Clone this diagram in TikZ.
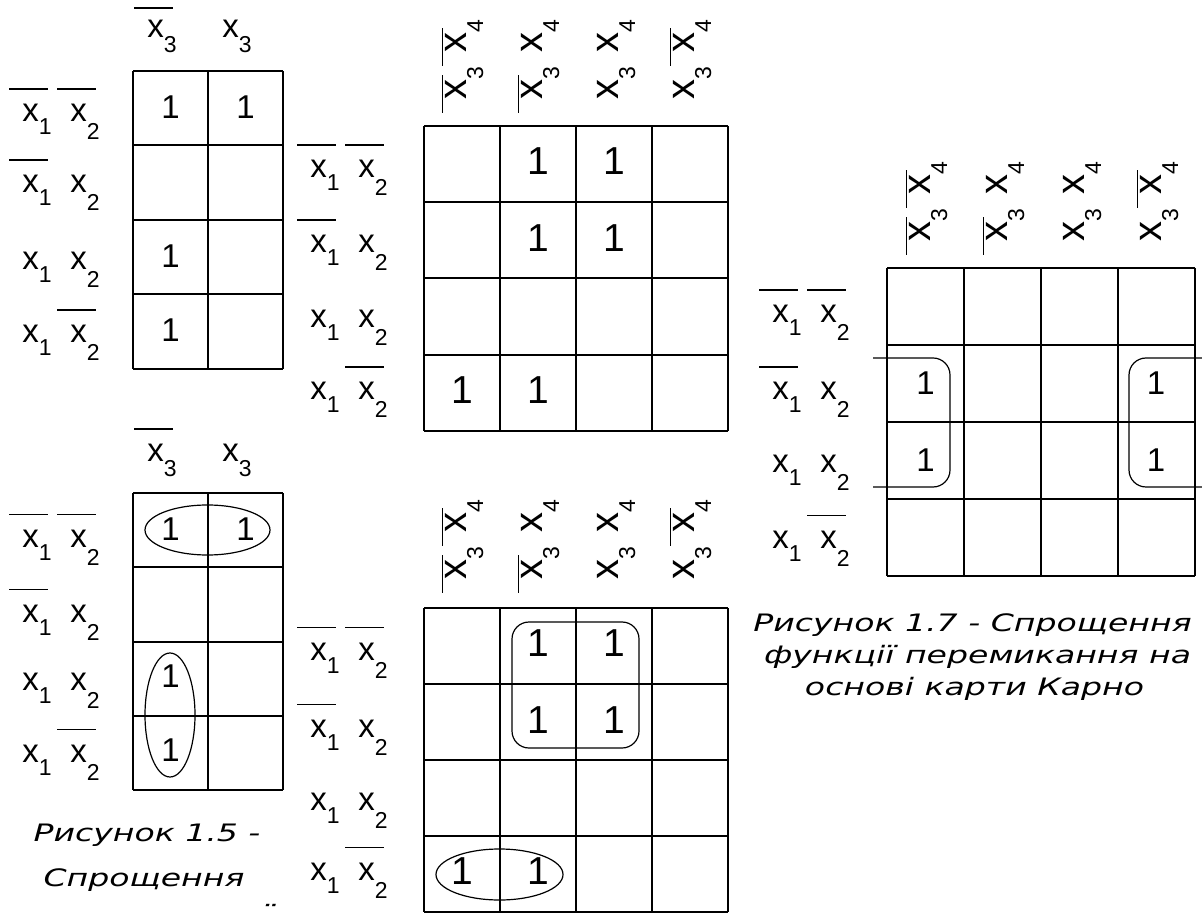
\documentclass[tikz,border=0pt]{standalone}
\usepackage{fontspec}
\setmainfont{Liberation Sans}
\newfontfamily\capfont[FakeStretch=1.38]{DejaVu Sans}
\usetikzlibrary{positioning}

% variable with subscript, and the same with a bar over it
\newcommand{\vx}[2]{x\raisebox{-#2}{\fontsize{11.5}{11.5}\selectfont #1}}
\newcommand{\nx}[3][16pt]{\rlap{\kern-6.5pt\raisebox{#1}{\rule{19.5pt}{0.75pt}}}\vx{#2}{#3}}
% larger ones for the turned column heads
\newcommand{\rvx}[1]{{\fontsize{20}{20}\selectfont x}\raisebox{-8.5pt}{\fontsize{11.5}{11.5}\selectfont #1}}
\newcommand{\rnx}[1]{\rlap{\kern-6.5pt\raisebox{11.5pt}{\rule{19pt}{0.75pt}}}\rvx{#1}}
% row heads
\newcommand{\rowaa}{\makebox[24pt][l]{\nx{1}{6.5pt}}\nx{2}{9pt}}
\newcommand{\rowab}{\makebox[24pt][l]{\nx{1}{6.5pt}}\vx{2}{9pt}}
\newcommand{\rowbb}{\makebox[24pt][l]{\vx{1}{6.5pt}}\vx{2}{9pt}}
\newcommand{\rowba}{\makebox[24pt][l]{\vx{1}{6.5pt}}\nx{2}{9pt}}
% column heads
\newcommand{\colaa}{\makebox[23.5pt][l]{\rnx{3}}\rnx{4}}
\newcommand{\colab}{\makebox[23.5pt][l]{\rnx{3}}\rvx{4}}
\newcommand{\colbb}{\makebox[23.5pt][l]{\rvx{3}}\rvx{4}}
\newcommand{\colba}{\makebox[23.5pt][l]{\rvx{3}}\rnx{4}}

\tikzstyle{gridline} = [line width=1pt]
\tikzstyle{loopline} = [line width=0.6pt]
\tikzstyle{cellone} = [inner sep=0pt, font=\fontsize{16.5}{16.5}\selectfont]
\tikzstyle{bigone} = [inner sep=0pt, font=\fontsize{19.5}{19.5}\selectfont]
\tikzstyle{varlabel} = [inner sep=0pt, anchor=base west, font=\fontsize{16.5}{16.5}\selectfont]
\tikzstyle{collabel} = [inner sep=0pt, anchor=base west, rotate=90]
\tikzstyle{figcaption} = [inner sep=0pt, anchor=base, font=\capfont\itshape\fontsize{12}{12}\selectfont]

\begin{document}
\begin{tikzpicture}[x=0.5pt, y=-0.5pt]
  \useasboundingbox (0,0) rectangle (1202,913);

  % Map A (top left)
  \foreach \c in {0,1,2} \draw[gridline] (133+75*\c,71) -- (133+75*\c,369);
  \foreach \r in {0,...,4} \draw[gridline] (133,71+74.5*\r) -- (283,71+74.5*\r);
  \node[varlabel] (ah1) at (147,38) {\nx[14.5pt]{3}{7.5pt}};
  \node[varlabel] (ah2) at (222,38) {\vx{3}{7.5pt}};
  \node[varlabel] (ar1) at (22,122) {\rowaa};
  \node[varlabel] (ar2) at (22,193) {\rowab};
  \node[varlabel] (ar3) at (22,270) {\rowbb};
  \node[varlabel] (ar4) at (22,343) {\rowba};
  \node[cellone] (a11) at (170.5,107) {1};
  \node[cellone] (a21) at (245.5,107) {1};
  \node[cellone] (a13) at (170.5,256) {1};
  \node[cellone] (a14) at (170.5,330) {1};

  % Map B (top middle)
  \foreach \c in {0,...,4} \draw[gridline] (424+76*\c,126) -- (424+76*\c,431);
  \foreach \r in {0,...,4} \draw[gridline] (424,126+76.25*\r) -- (728,126+76.25*\r);
  \node[collabel] (bh1) at (466,100) {\colaa};
  \node[collabel] (bh2) at (542,100) {\colab};
  \node[collabel] (bh3) at (618,100) {\colbb};
  \node[collabel] (bh4) at (694,100) {\colba};
  \node[varlabel] (br1) at (310,178) {\rowaa};
  \node[varlabel] (br2) at (310,253) {\rowab};
  \node[varlabel] (br3) at (310,328) {\rowbb};
  \node[varlabel] (br4) at (310,400) {\rowba};
  \node[bigone] (b21) at (538,161) {1};
  \node[bigone] (b31) at (614,161) {1};
  \node[bigone] (b22) at (538,238) {1};
  \node[bigone] (b32) at (614,238) {1};
  \node[bigone] (b14) at (462,390) {1};
  \node[bigone] (b24) at (538,390) {1};

  % Map C (right)
  \foreach \c in {0,...,4} \draw[gridline] (887+77*\c,268) -- (887+77*\c,576);
  \foreach \r in {0,...,4} \draw[gridline] (887,268+77*\r) -- (1195,268+77*\r);
  \node[collabel] (ch1) at (930,242) {\colaa};
  \node[collabel] (ch2) at (1007,242) {\colab};
  \node[collabel] (ch3) at (1084,242) {\colbb};
  \node[collabel] (ch4) at (1161,242) {\colba};
  \node[varlabel] (cr1) at (772,323) {\rowaa};
  \node[varlabel] (cr2) at (772,400) {\rowab};
  \node[varlabel] (cr3) at (772,473) {\rowbb};
  \node[varlabel] (cr4) at (772,548) {\rowba};
  \node[cellone] (c12) at (925.5,383) {1};
  \node[cellone] (c13) at (925.5,460) {1};
  \node[cellone] (c42) at (1156,383) {1};
  \node[cellone] (c43) at (1156,460) {1};
  \draw[loopline, rounded corners=8.5pt] (873,358) -| (950,487) -- (873,487);
  \draw[loopline, rounded corners=8.5pt] (1202,358) -| (1129,487) -- (1202,487);

  % Map D (bottom left)
  \foreach \c in {0,1,2} \draw[gridline] (133+75*\c,493) -- (133+75*\c,790);
  \foreach \r in {0,...,4} \draw[gridline] (133,493+74.25*\r) -- (283,493+74.25*\r);
  \node[varlabel] (dh1) at (147,462) {\nx[16pt]{3}{7.5pt}};
  \node[varlabel] (dh2) at (222,462) {\vx{3}{7.5pt}};
  \node[varlabel] (dr1) at (22,547) {\rowaa};
  \node[varlabel] (dr2) at (22,622) {\rowab};
  \node[varlabel] (dr3) at (22,690) {\rowbb};
  \node[varlabel] (dr4) at (22,762) {\rowba};
  \node[cellone] (d11) at (170.5,529) {1};
  \node[cellone] (d21) at (245.5,529) {1};
  \node[cellone] (d13) at (170.5,676) {1};
  \node[cellone] (d14) at (170.5,750) {1};
  \draw[loopline] (207.5,530) ellipse [x radius=31.25pt, y radius=12.5pt];
  \draw[loopline] (170,715) ellipse [x radius=12.5pt, y radius=31pt];

  % Map E (bottom middle)
  \foreach \c in {0,...,4} \draw[gridline] (424+76*\c,608) -- (424+76*\c,912);
  \foreach \r in {0,...,4} \draw[gridline] (424,608+76*\r) -- (728,608+76*\r);
  \node[collabel] (eh1) at (466,580) {\colaa};
  \node[collabel] (eh2) at (542,580) {\colab};
  \node[collabel] (eh3) at (618,580) {\colbb};
  \node[collabel] (eh4) at (694,580) {\colba};
  \node[varlabel] (er1) at (310,660) {\rowaa};
  \node[varlabel] (er2) at (310,737) {\rowab};
  \node[varlabel] (er3) at (310,810) {\rowbb};
  \node[varlabel] (er4) at (310,880) {\rowba};
  \node[bigone] (e21) at (538,643) {1};
  \node[bigone] (e31) at (614,643) {1};
  \node[bigone] (e22) at (538,720) {1};
  \node[bigone] (e32) at (614,720) {1};
  \node[bigone] (e14) at (462,871) {1};
  \node[bigone] (e24) at (538,871) {1};
  \draw[loopline, rounded corners=8.5pt] (512,622) rectangle (639,748);
  \draw[loopline] (499.5,874.5) ellipse [x radius=31.75pt, y radius=12.75pt];

  % Captions
  \node[figcaption] (cap5a) at (147,841) {Рисунок 1.5 -};
  \node[figcaption] (cap5b) at (144,886) {Спрощення};
  \node[figcaption] (cap5c) at (268,922) {\smash{¨}};
  \node[figcaption] (cap7a) at (972.5,631) {Рисунок 1.7 - Спрощення};
  \node[figcaption] (cap7b) at (977.5,663) {функції перемикання на};
  \node[figcaption] (cap7c) at (974.5,695) {основі карти Карно};
\end{tikzpicture}
\end{document}
